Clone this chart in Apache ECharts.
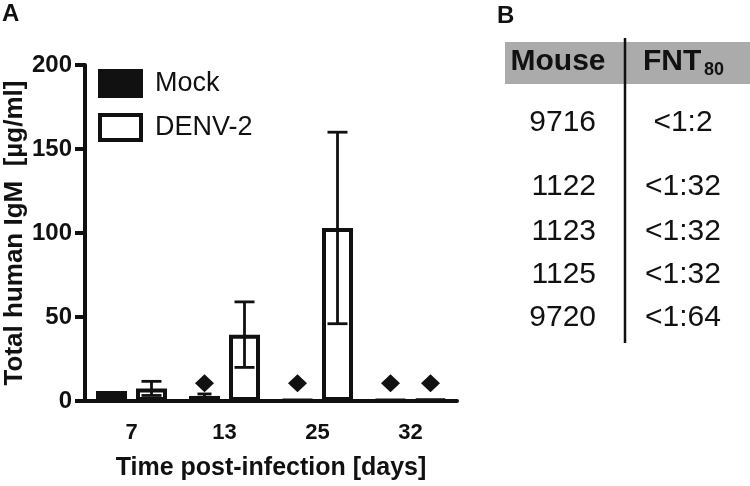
<!DOCTYPE html>
<html>
<head>
<meta charset="utf-8">
<script src="https://cdn.jsdelivr.net/npm/echarts@6/dist/echarts.min.js"></script>
<style>
  html, body { margin: 0; padding: 0; background: #ffffff; }
  #chart { width: 750px; height: 486px; }
</style>
</head>
<body>
<div id="chart"></div>
<script>
// ---------- data ----------
const days = ['7', '13', '25', '32'];
const mockMean = [6, 3, 0.6, 0.6];
const mockErr = [0, 1.2, 0, 0];
const denvMean = [7.5, 39.5, 103, 0.9];
const denvErr = [4.2, 19.5, 57, 0];
const mockDiamondDays = ['13', '25', '32'];
const denvDiamondDays = ['32'];
const diamondLevel = 10.5;
const yTicks = [0, 50, 100, 150, 200];

const mouseIds = ['9716', '1122', '1123', '1125', '9720'];
const fntValues = ['<1:2', '<1:32', '<1:32', '<1:32', '<1:64'];

// ---------- layout / style constants ----------
const FONT = '"Liberation Sans", Arial, Helvetica, sans-serif';
const INK = '#111111';
const BAR_W = 31;
const BAR_GAP = 9;
const rowY = [123, 187, 232, 275, 318];

const chart = echarts.init(document.getElementById('chart'), null, { renderer: 'canvas' });

function errorRenderer(offsetSign, capHalf) {
  return function (params, api) {
    const cat = api.value(0);
    const lo = api.value(1);
    const hi = api.value(2);
    if (hi - lo <= 0) return null;
    const base = api.coord([cat, lo]);
    const top = api.coord([cat, hi]);
    const x = base[0] + offsetSign * (BAR_W + BAR_GAP) / 2;
    const style = { stroke: INK, lineWidth: 2.8, fill: null };
    return {
      type: 'group',
      children: [
        { type: 'line', shape: { x1: x, y1: base[1], x2: x, y2: top[1] }, style: style },
        { type: 'line', shape: { x1: x - capHalf, y1: top[1], x2: x + capHalf, y2: top[1] }, style: style },
        { type: 'line', shape: { x1: x - capHalf, y1: base[1], x2: x + capHalf, y2: base[1] }, style: style }
      ]
    };
  };
}

function errData(means, errs) {
  return days.map((d, i) => [i, means[i] - errs[i], means[i] + errs[i]]);
}

const diamondStyle = {
  symbol: 'diamond',
  symbolSize: [19, 18],
  itemStyle: { color: INK, borderWidth: 0 },
  label: { show: false },
  silent: true
};

const graphics = [
  { type: 'text', left: 2, top: 2, style: { text: 'A', font: 'bold 24px ' + FONT, fill: INK } },
  { type: 'text', left: 497, top: 4, style: { text: 'B', font: 'bold 24px ' + FONT, fill: INK } },
  { type: 'rect', shape: { x: 505, y: 42, width: 245, height: 42 }, style: { fill: '#ababab' } },
  { type: 'line', shape: { x1: 625, y1: 38, x2: 625, y2: 343 }, style: { stroke: INK, lineWidth: 2.5 } },
  { type: 'text', x: 558, y: 62, style: { text: 'Mouse', font: 'bold 30px ' + FONT, fill: INK, align: 'center', verticalAlign: 'middle' } },
  { type: 'text', x: 643, y: 62, style: { text: 'FNT', font: 'bold 30px ' + FONT, fill: INK, align: 'left', verticalAlign: 'middle' } },
  { type: 'text', x: 704, y: 70, style: { text: '80', font: 'bold 18px ' + FONT, fill: INK, align: 'left', verticalAlign: 'middle' } }
];
mouseIds.forEach((id, i) => {
  graphics.push({ type: 'text', x: 596, y: rowY[i], style: { text: id, font: '30px ' + FONT, fill: INK, align: 'right', verticalAlign: 'middle' } });
  graphics.push({ type: 'text', x: 683, y: rowY[i], style: { text: fntValues[i], font: '30px ' + FONT, fill: INK, align: 'center', verticalAlign: 'middle' } });
});

const option = {
  animation: false,
  backgroundColor: '#ffffff',
  textStyle: { fontFamily: FONT },
  grid: { left: 85, right: 293, top: 65, bottom: 81, containLabel: false },
  legend: {
    data: ['Mock', 'DENV-2'],
    orient: 'vertical',
    left: 93,
    top: 64,
    itemWidth: 41,
    itemHeight: 25,
    itemGap: 15,
    icon: 'rect',
    selectedMode: false,
    itemStyle: { borderWidth: 4 },
    textStyle: { fontFamily: FONT, fontSize: 27, color: INK, padding: [0, 0, 0, 9] }
  },
  xAxis: {
    type: 'category',
    data: days,
    name: 'Time post-infection [days]',
    nameLocation: 'middle',
    nameGap: 55,
    nameTextStyle: { fontFamily: FONT, fontSize: 25, fontWeight: 'bold', color: INK },
    axisLine: { lineStyle: { color: INK, width: 4 } },
    axisTick: { alignWithLabel: true, length: 12, lineStyle: { color: INK, width: 4 } },
    axisLabel: { margin: 21, fontFamily: FONT, fontSize: 22, fontWeight: 'bold', color: INK },
    splitLine: { show: false }
  },
  yAxis: {
    type: 'value',
    min: yTicks[0],
    max: yTicks[yTicks.length - 1],
    interval: yTicks[1] - yTicks[0],
    name: 'Total human IgM  [\u00b5g/ml]',
    nameLocation: 'middle',
    nameGap: 57,
    nameTextStyle: { fontFamily: FONT, fontSize: 26, fontWeight: 'bold', color: INK },
    axisLine: { show: true, lineStyle: { color: INK, width: 4 } },
    axisTick: { show: true, length: 10, lineStyle: { color: INK, width: 4 } },
    axisLabel: { margin: 13, fontFamily: FONT, fontSize: 24, fontWeight: 'bold', color: INK },
    splitLine: { show: false }
  },
  series: [
    {
      name: 'Mock',
      type: 'bar',
      data: mockMean,
      barWidth: BAR_W,
      barGap: (BAR_GAP / BAR_W * 100) + '%',
      itemStyle: { color: INK, borderColor: INK, borderWidth: 4 },
      markPoint: Object.assign({ data: mockDiamondDays.map(d => ({ coord: [d, diamondLevel] })) }, diamondStyle)
    },
    {
      name: 'DENV-2',
      type: 'bar',
      data: denvMean,
      barWidth: BAR_W,
      barGap: (BAR_GAP / BAR_W * 100) + '%',
      itemStyle: { color: '#ffffff', borderColor: INK, borderWidth: 4 },
      markPoint: Object.assign({ data: denvDiamondDays.map(d => ({ coord: [d, diamondLevel] })) }, diamondStyle)
    },
    {
      name: 'MockErr',
      type: 'custom',
      renderItem: errorRenderer(-1, 7),
      data: errData(mockMean, mockErr),
      z: 5,
      silent: true
    },
    {
      name: 'DenvErr',
      type: 'custom',
      renderItem: errorRenderer(1, 10),
      data: errData(denvMean, denvErr),
      z: 5,
      silent: true
    }
  ],
  graphic: graphics
};

chart.setOption(option);
</script>
</body>
</html>
